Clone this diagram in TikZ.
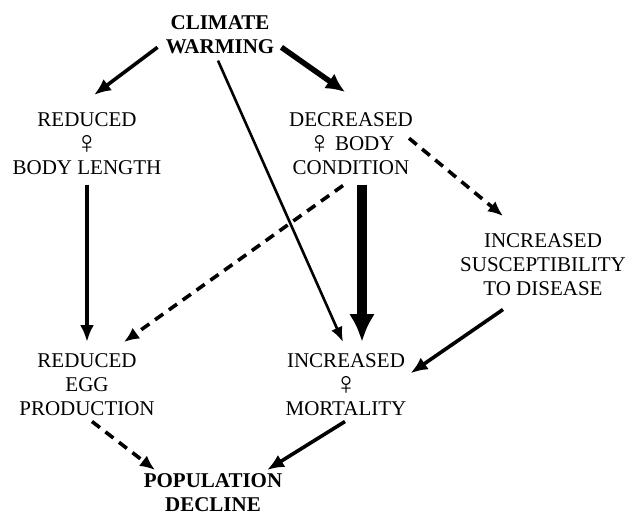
\documentclass[tikz,border=0pt]{standalone}
\usepackage{fontspec}
\setmainfont{Liberation Serif}
\usepackage{tikz}
\usetikzlibrary{calc, arrows.meta}
\tikzset{>=latex}
\newcommand{\fem}{\raisebox{-3pt}{\fontsize{32}{24}\selectfont ♀}}
\tikzset{
  box/.style = {align = center, inner sep = 0pt, anchor = north, font = \fontsize{21}{24}\selectfont},
  bbox/.style = {box, font = \fontsize{21}{24}\selectfont\bfseries},
  link/.style = {-{Latex[length = 17pt, width = 14pt]}, line width = 3.6pt},
  thinlink/.style = {-{Latex[length = 15pt, width = 12pt]}, line width = 2.6pt},
  strong/.style = {-{Latex[length = 19pt, width = 18pt]}, line width = 5.5pt},
  heavy/.style = {-{Latex[length = 28pt, width = 26pt]}, line width = 10pt},
  weak/.style = {-{Latex[length = 15pt, width = 13pt]}, line width = 3.6pt, dash pattern = on 10pt off 7pt}
}

\begin{document}
\begin{tikzpicture}[x = 1pt, y = -1pt]

\useasboundingbox (0,0) rectangle (635,517);

% factors
\node[bbox] (warm) at (220, 15) {CLIMATE\\WARMING};
\node[box] (length) at (87, 112) {REDUCED\\\fem\\BODY LENGTH};
\node[box] (cond) at (351, 112) {DECREASED\\\fem\,BODY\\CONDITION};
\node[box] (disease) at (543, 233) {INCREASED\\SUSCEPTIBILITY\\TO DISEASE};
\node[box] (eggs) at (87, 353) {REDUCED\\EGG\\PRODUCTION};
\node[box] (mort) at (346, 353) {INCREASED\\\fem\\MORTALITY};
\node[bbox] (decline) at (213, 473) {POPULATION\\DECLINE};

% effects
\draw[link] ([shift = {(-8, 13)}]warm.west) -- ([shift = {(7, -17)}]length.north);
\draw[strong] ([shift = {(7, 13)}]warm.east) -- ([shift = {(-6, -20)}]cond.north);
\draw[thinlink] ([shift = {(-2, 7)}]warm.south) -- ([shift = {(-3, -11)}]mort.north);
\draw[link] ([shift = {(0, 10)}]length.south) -- ([shift = {(0, -11)}]eggs.north);
\draw[weak] ([shift = {(-8, 11)}]cond.south) -- ([shift = {(37, -11)}]eggs.north);
\draw[heavy] ([shift = {(11, 10)}]cond.south) -- ([shift = {(16, -11)}]mort.north);
\draw[weak] ([shift = {(-4, -5)}]cond.east) -- ([shift = {(-40, -17)}]disease.north);
\draw[link] ([shift = {(-40, 14)}]disease.south) -- ([shift = {(4, -11)}]mort.east);
\draw[weak] ([shift = {(5, 6)}]eggs.south) -- ([shift = {(-58, -3)}]decline.north);
\draw[link] ([shift = {(-1, 6)}]mort.south) -- ([shift = {(54, -3)}]decline.north);

\end{tikzpicture}
\end{document}
